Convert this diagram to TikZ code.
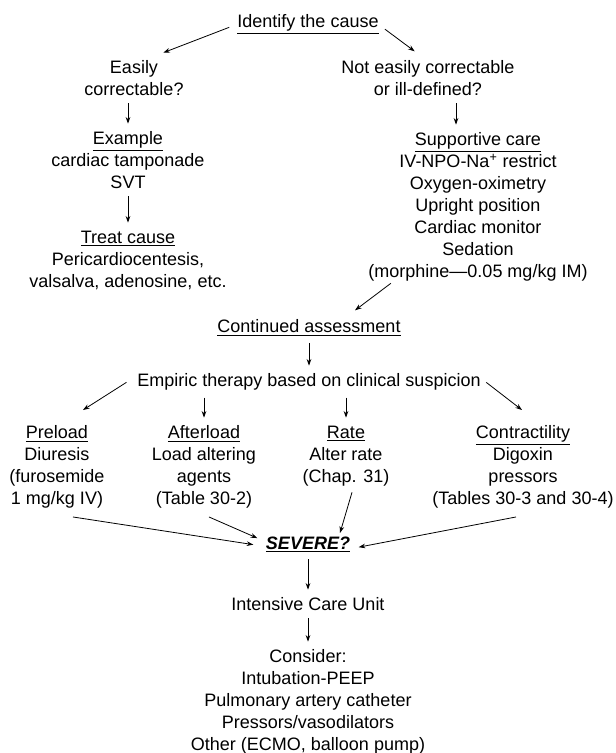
\documentclass[tikz,border=0pt]{standalone}
\usepackage{fontspec}
\setmainfont{Liberation Sans}
\usepackage{tikz}
\usetikzlibrary{arrows.meta}
\newcommand{\flowsize}{\fontsize{13.5}{16.5}\selectfont}

\begin{document}
\begin{tikzpicture}[
    x=0.75pt, y=-0.75pt,
    txt/.style={font=\flowsize, align=center, anchor=north, inner sep=2pt},
    arr/.style={-{Stealth[length=5pt, width=3.5pt]}, line width=0.6pt, shorten <=3pt, shorten >=4pt},
    darr/.style={arr, shorten <=0pt, shorten >=0pt}
]
\useasboundingbox (0,0) rectangle (615,753);

\node[txt] (cause) at (308,12) {\underline{Identify the cause}};
\node[txt] (easy) at (134,58) {Easily\\correctable?};
\node[txt] (hard) at (428,58) {Not easily correctable\\or ill-defined?};
\node[txt] (ex) at (128,129) {\underline{Example}\\cardiac tamponade\\SVT};
\node[txt] (treat) at (128,228) {\underline{Treat cause}\\Pericardiocentesis,\\valsalva, adenosine, etc.};
\node[txt] (supp) at (478,130) {\underline{Supportive care}\\IV-NPO-Na\textsuperscript{+} restrict\\Oxygen-oximetry\\Upright position\\Cardiac monitor\\Sedation\\(morphine---0.05 mg/kg IM)};
\node[txt] (cont) at (309,317) {\underline{Continued assessment}};
\node[txt] (emp) at (309,371) {Empiric therapy based on clinical suspicion};
\node[txt] (pre) at (57,423) {\underline{Preload}\\Diuresis\\(furosemide\\1 mg/kg IV)};
\node[txt] (aft) at (204,423) {\underline{Afterload}\\Load altering\\agents\\(Table 30-2)};
\node[txt] (rate) at (346,423) {\underline{Rate}\\Alter rate\\(Chap. 31)};
\node[txt] (con) at (523,423) {\underline{Contractility}\\Digoxin\\pressors\\(Tables 30-3 and 30-4)};
\node[txt] (sev) at (308,534) {\textbf{\textit{\underline{SEVERE?}}}};
\node[txt] (icu) at (308,595) {Intensive Care Unit};
\node[txt] (cons) at (308,647) {Consider:\\Intubation-PEEP\\Pulmonary artery catheter\\Pressors/vasodilators\\Other (ECMO, balloon pump)};

\draw[darr] ([shift={(-4pt,-2pt)}]cause.west) -- ([shift={(22pt,4pt)}]easy.north);
\draw[darr] ([shift={(2.6pt,-3.4pt)}]cause.east) -- ([shift={(-10pt,5pt)}]hard.north);
\draw[arr] (ex.north |- easy.south) -- (ex.north);
\draw[arr] ([xshift=21pt]hard.south) -- ([xshift=-16.5pt]supp.north);
\draw[arr] (ex) -- (treat);
\draw[darr] ([shift={(19pt,1pt)}]supp.south west) -- ([shift={(34.5pt,5pt)}]cont.north);
\draw[arr] (cont) -- (emp);
\draw[darr] ([xshift=-6pt]emp.west) -- ([shift={(19.5pt,9.75pt)}]pre.north);
\draw[arr] (aft.north |- emp.south) -- (aft.north);
\draw[arr] (rate.north |- emp.south) -- (rate.north);
\draw[darr] ([xshift=2pt]emp.east) -- ([shift={(-0.75pt,9.75pt)}]con.north);
\draw[darr] ([shift={(12pt,-4pt)}]pre.south) -- ([xshift=-7.3pt]sev.west);
\draw[darr] ([shift={(3.75pt,-4pt)}]aft.south) -- ([shift={(-4.3pt,4.9pt)}]sev.west);
\draw[darr] ([shift={(4.5pt,-2.5pt)}]rate.south) -- ([shift={(24pt,0.75pt)}]sev.north);
\draw[darr] ([shift={(-5.25pt,-4pt)}]con.south) -- ([shift={(4.3pt,-1.9pt)}]sev.east);
\draw[arr] (sev) -- (icu);
\draw[arr] (icu) -- (cons);
\end{tikzpicture}
\end{document}
